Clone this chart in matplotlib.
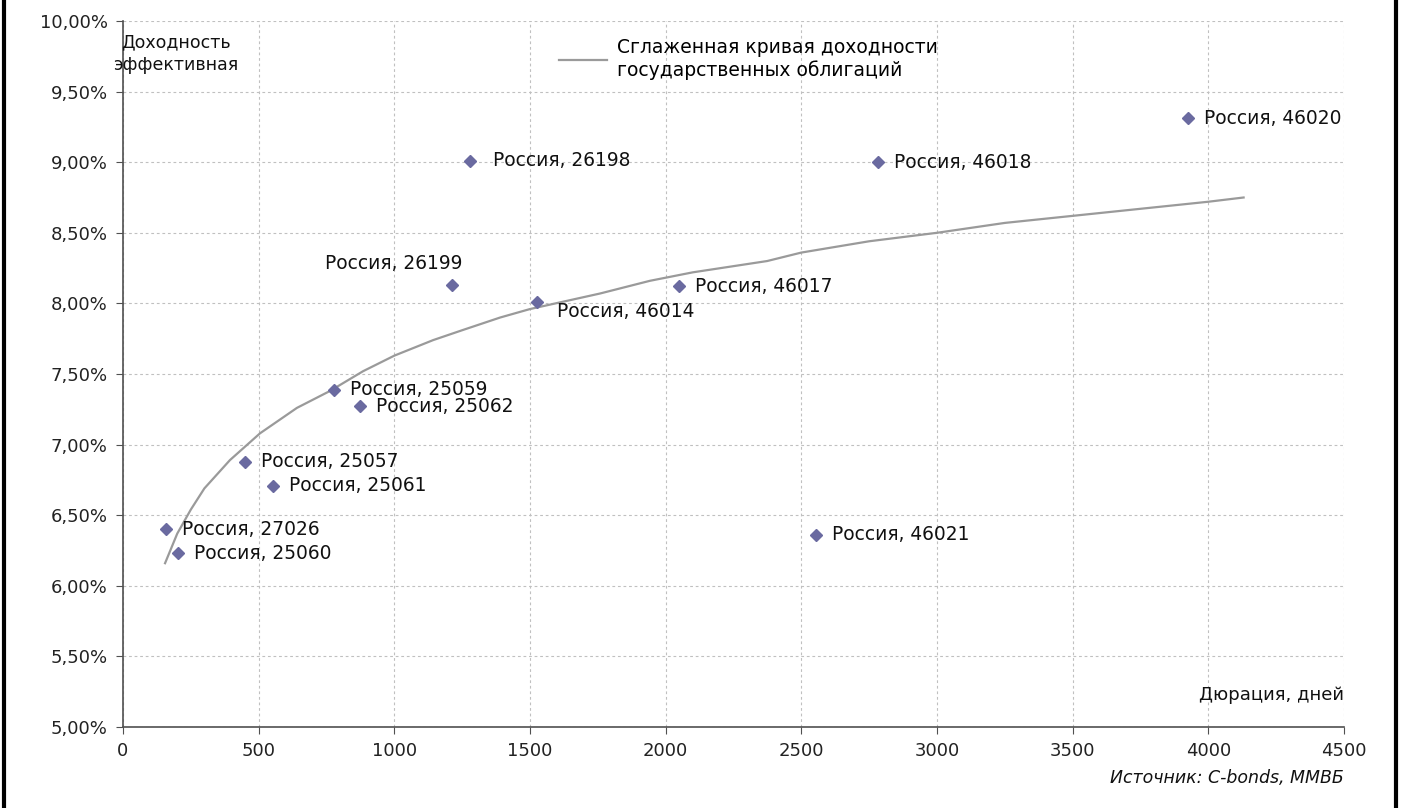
import matplotlib.pyplot as plt
from matplotlib.patches import Rectangle
from matplotlib.ticker import FuncFormatter, MultipleLocator

# bonds: duration (days) and effective yield (%)
bondNames = ["27026", "25060", "25057", "25061", "25059", "25062", "26199",
             "26198", "46014", "46017", "46021", "46018", "46020"]
bondDuration = [158, 203, 450, 553, 778, 874, 1213, 1279, 1526, 2049, 2554, 2783, 3925]
bondYield = [6.40, 6.23, 6.88, 6.71, 7.39, 7.27, 8.13, 9.01, 8.01, 8.12, 6.36, 9.00, 9.31]

# smoothed government yield curve
curveDuration = [155, 200, 250, 300, 394, 505, 641, 763, 885, 1000, 1143, 1250, 1390,
                 1500, 1758, 1942, 2100, 2374, 2500, 2750, 3000, 3250, 3500, 3750, 4000, 4130]
curveYield = [6.16, 6.37, 6.54, 6.69, 6.89, 7.08, 7.26, 7.38, 7.52, 7.63, 7.74, 7.81, 7.90,
              7.96, 8.07, 8.16, 8.22, 8.30, 8.36, 8.44, 8.50, 8.57, 8.62, 8.67, 8.72, 8.75]

# label offsets in pixels (dx, dy) and alignment
labelOffsets = {"26199": (-58, 22, "center"), "26198": (23, 0, "left"),
                "46014": (20, -10, "left")}

fig = plt.figure(figsize=(14.01, 8.08), dpi=100)
ax = fig.add_axes([123 / 1401, 1 - 727 / 808, (1344 - 123) / 1401, (727 - 21) / 808])

ax.plot(curveDuration, curveYield, color="#9a9a9a", linewidth=1.6,
        label="Сглаженная кривая доходности\nгосударственных облигаций")
ax.plot(bondDuration, bondYield, linestyle="none", marker="D", markersize=6.5,
        color="#6a6aa0")

for name, x, y in zip(bondNames, bondDuration, bondYield):
    dx, dy, ha = labelOffsets.get(name, (16, 0, "left"))
    ax.annotate("Россия, " + name, (x, y), xytext=(dx, dy), textcoords="offset pixels",
                ha=ha, va="center", fontsize=13.4, color="#111111")

ax.set_xlim(0, 4500)
ax.set_ylim(5, 10)
ax.xaxis.set_major_locator(MultipleLocator(500))
ax.yaxis.set_major_locator(MultipleLocator(0.5))
ax.yaxis.set_major_formatter(FuncFormatter(lambda v, p: ("%.2f%%" % v).replace(".", ",")))

ax.grid(True, color="#c0c0c0", linestyle=(0, (2.5, 2.5)), linewidth=0.8)
for s in ["top", "right"]:
    ax.spines[s].set_visible(False)
for s in ["left", "bottom"]:
    ax.spines[s].set_color("#505050")
    ax.spines[s].set_linewidth(1.2)
ax.tick_params(direction="out", length=5, color="#505050", labelsize=13,
               labelcolor="#222222", pad=6)

leg = ax.legend(loc="upper left", bbox_to_anchor=(0.343, 1.0), frameon=False,
                fontsize=13.5, handlelength=2.6, handletextpad=0.5)

ax.text(0.043, 0.982, "Доходность\nэффективная", transform=ax.transAxes,
        ha="center", va="top", fontsize=12.5, color="#111111", linespacing=1.3)
ax.text(1.0, 0.045, "Дюрация, дней", transform=ax.transAxes, ha="right",
        va="center", fontsize=13, color="#111111")
fig.text(1344 / 1401, 1 - 778 / 808, "Источник: C-bonds, ММВБ", ha="right",
         va="center", fontsize=12.5, style="italic", color="#111111")

fig.add_artist(Rectangle((4 / 1401, -0.02), 1392 / 1401, 1.04, transform=fig.transFigure,
                         fill=False, edgecolor="black", linewidth=3))

fig.savefig("out.png", dpi=100)
